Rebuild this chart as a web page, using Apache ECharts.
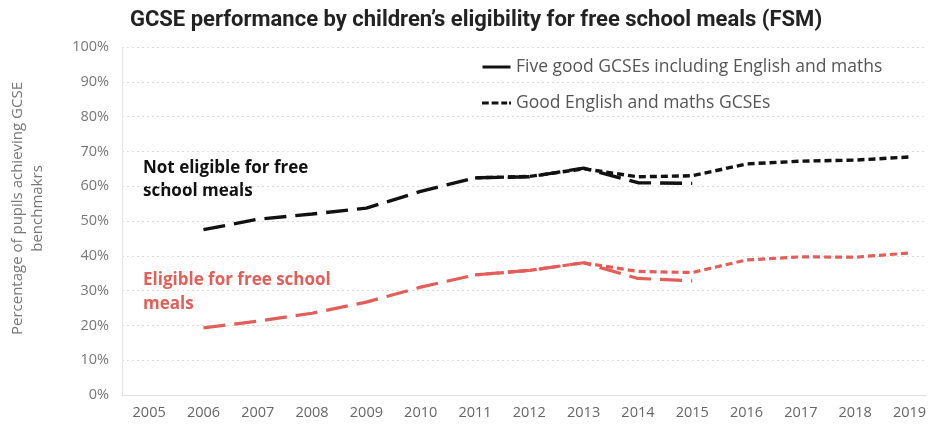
<!DOCTYPE html>
<html>
<head>
<meta charset="utf-8">
<script src="https://cdn.jsdelivr.net/npm/echarts@6/dist/echarts.min.js"></script>
<style>
  html, body { margin: 0; padding: 0; background: #fff; }
  #chart { width: 929px; height: 429px; }
</style>
</head>
<body>
<div id="chart"></div>
<script>
// Data
var years = [2005, 2006, 2007, 2008, 2009, 2010, 2011, 2012, 2013, 2014, 2015, 2016, 2017, 2018, 2019];

// Five good GCSEs (2006-2015)
var fiveGoodYears = [2006, 2007, 2008, 2009, 2010, 2011, 2012, 2013, 2014, 2015];
var fiveGoodNotFsm = [47.5, 50.5, 52, 53.7, 58.5, 62.4, 62.7, 65.2, 61, 60.8];
var fiveGoodFsm = [19.3, 21.2, 23.5, 26.7, 31, 34.5, 35.8, 38, 33.5, 32.8];

// Good English and maths GCSEs (2011-2019)
var engMathsYears = [2011, 2012, 2013, 2014, 2015, 2016, 2017, 2018, 2019];
var engMathsNotFsm = [62.4, 62.8, 65, 62.7, 63, 66.4, 67.2, 67.5, 68.4];
var engMathsFsm = [34.5, 35.8, 38, 35.5, 35.2, 38.8, 39.7, 39.6, 40.8];

var yTicks = [0, 10, 20, 30, 40, 50, 60, 70, 80, 90, 100];

var seriesNames = ['Five good GCSEs including English and maths', 'Good English and maths GCSEs'];

function pairs(xs, ys) {
    return xs.map(function (x, i) { return [x, ys[i]]; });
}

var chart_element = document.getElementById('chart');
var chart = echarts.init(chart_element);

var black = '#111111';
var red = '#e25e59';
var longDash = [22, 9];
var shortDash = [7, 4];

// Legend icons (plain line / dashed line, no symbol)
var solidIcon = 'path://M0,0h28v3h-28z';
var dashIcon = 'path://M0,0h7v3h-7z M10,0h7v3h-7z M20,0h6v3h-6z M28,0h2v3h-2z';

chart.setOption({
    animation: false,
    textStyle: {
        fontFamily: '"Open Sans", Roboto, sans-serif'
    },
    title: {
        text: 'GCSE performance by children\u2019s eligibility for free school meals (FSM)',
        left: 471,
        textAlign: 'center',
        top: 4,
        textStyle: {
            fontSize: 22,
            fontWeight: 700,
            color: '#222',
            fontFamily: 'Roboto, sans-serif'
        }
    },
    legend: {
        data: [
            { name: seriesNames[0], icon: solidIcon },
            { name: seriesNames[1], icon: dashIcon }
        ],
        orient: 'vertical',
        left: 477,
        top: 51,
        itemWidth: 29,
        itemHeight: 3,
        itemGap: 14,
        itemStyle: { color: black },
        textStyle: {
            fontSize: 17.5,
            color: '#555',
            fontFamily: '"Open Sans", sans-serif',
            lineHeight: 22
        }
    },
    grid: {
        left: 120,
        right: 3,
        top: 47,
        bottom: 34
    },
    xAxis: {
        type: 'value',
        min: 2004.5,
        max: 2019.3,
        splitLine: { show: false },
        axisLine: { show: true, lineStyle: { color: '#ddd' } },
        axisTick: { show: false },
        axisLabel: {
            customValues: years,
            formatter: function (v) { return String(v); },
            color: '#666',
            fontSize: 14.5,
            margin: 10
        }
    },
    yAxis: {
        type: 'value',
        min: 0,
        max: 100,
        interval: 10,
        name: 'Percentage of pupils achieving GCSE\nbenchmakrs',
        nameLocation: 'middle',
        nameGap: 74,
        nameRotate: 90,
        nameTextStyle: {
            fontSize: 15,
            color: '#777',
            lineHeight: 20,
            padding: [0, 0, 0, 25]
        },
        axisLine: { show: true, lineStyle: { color: '#e6e6e6' } },
        axisTick: { show: false },
        axisLabel: {
            formatter: function (v) { return yTicks.indexOf(v) >= 0 ? v + '%' : ''; },
            color: '#777',
            fontSize: 14.5,
            margin: 13
        },
        splitLine: {
            lineStyle: { color: '#dcdcdc', type: [2, 3], width: 1 }
        }
    },
    graphic: [
        {
            type: 'text',
            left: 143,
            top: 157,
            style: {
                text: 'Not eligible for free\nschool meals',
                font: '700 17px "Open Sans", sans-serif',
                lineHeight: 23,
                fill: '#111'
            }
        },
        {
            type: 'text',
            left: 143,
            top: 268,
            style: {
                text: 'Eligible for free school\nmeals',
                font: '700 17px "Open Sans", sans-serif',
                lineHeight: 24,
                fill: red
            }
        }
    ],
    series: [
        {
            name: seriesNames[0],
            type: 'line',
            symbol: 'none',
            data: pairs(fiveGoodYears, fiveGoodNotFsm),
            lineStyle: { color: black, width: 3.4, type: longDash },
            itemStyle: { color: black },
            z: 3
        },
        {
            name: seriesNames[1],
            type: 'line',
            symbol: 'none',
            data: pairs(engMathsYears, engMathsNotFsm),
            lineStyle: { color: black, width: 3.4, type: shortDash },
            itemStyle: { color: black },
            z: 3
        },
        {
            name: 'FSM five good',
            type: 'line',
            symbol: 'none',
            data: pairs(fiveGoodYears, fiveGoodFsm),
            lineStyle: { color: red, width: 3.2, type: longDash },
            itemStyle: { color: red }
        },
        {
            name: 'FSM English and maths',
            type: 'line',
            symbol: 'none',
            data: pairs(engMathsYears, engMathsFsm),
            lineStyle: { color: red, width: 3.2, type: shortDash },
            itemStyle: { color: red }
        }
    ]
});
</script>
</body>
</html>
